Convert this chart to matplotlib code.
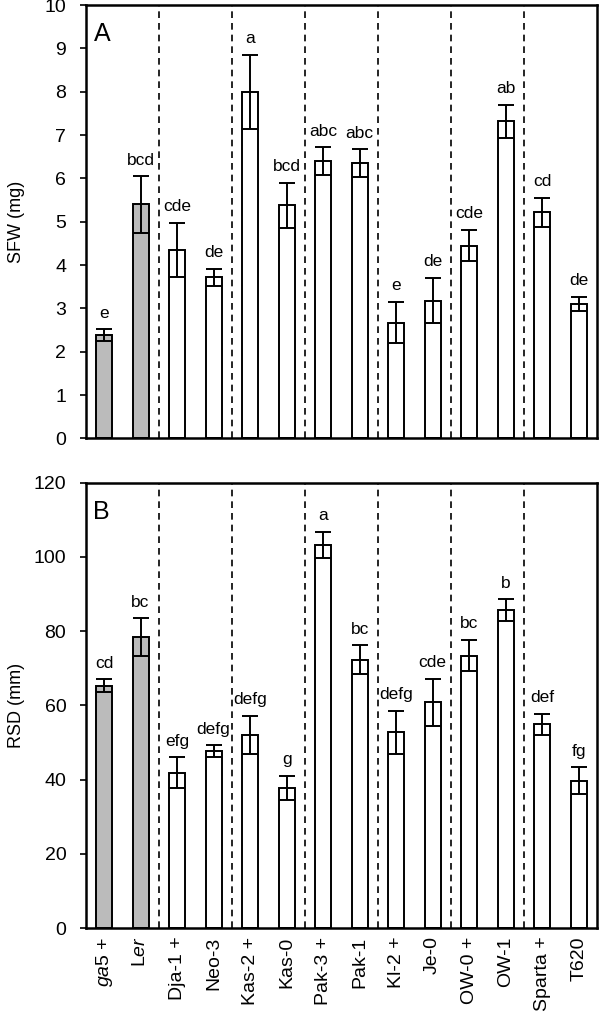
import numpy as np
import matplotlib.pyplot as plt

plt.rcParams['font.family'] = ['Liberation Sans', 'DejaVu Sans']
plt.rcParams['mathtext.fontset'] = 'custom'
plt.rcParams['mathtext.it'] = 'Liberation Sans:italic'
plt.rcParams['mathtext.rm'] = 'Liberation Sans'

# lines (accessions)
labels = [r'$\it{ga5}$ +', r'L$\it{er}$', 'Dja-1 +', 'Neo-3', 'Kas-2 +', 'Kas-0',
          'Pak-3 +', 'Pak-1', 'Kl-2 +', 'Je-0', 'OW-0 +', 'OW-1', 'Sparta +', 'T620']

# panel A: shoot fresh weight (mg)
sfw = [2.38, 5.40, 4.35, 3.72, 8.00, 5.38, 6.40, 6.35, 2.67, 3.18, 4.45, 7.32, 5.22, 3.10]
sfw_err = [0.14, 0.65, 0.63, 0.20, 0.85, 0.52, 0.32, 0.32, 0.48, 0.52, 0.36, 0.38, 0.33, 0.17]
sfw_grp = ['e', 'bcd', 'cde', 'de', 'a', 'bcd', 'abc', 'abc', 'e', 'de', 'cde', 'ab', 'cd', 'de']

# panel B: rosette diameter (mm)
rsd = [65.3, 78.4, 41.9, 47.6, 52.0, 37.7, 103.2, 72.3, 52.8, 60.8, 73.4, 85.6, 54.9, 39.7]
rsd_err = [1.7, 5.0, 4.1, 1.6, 5.2, 3.3, 3.5, 3.9, 5.8, 6.3, 4.2, 3.0, 2.9, 3.6]
rsd_grp = ['cd', 'bc', 'efg', 'defg', 'defg', 'g', 'a', 'bc', 'defg', 'cde', 'bc', 'b', 'def', 'fg']

colors = ['#bbbbbb', '#bbbbbb'] + ['white'] * 12
x = np.arange(len(labels))

fig = plt.figure(figsize=(6, 10.29), dpi=100)
axA = fig.add_axes([0.143, 0.574, 0.852, 0.421])
axB = fig.add_axes([0.143, 0.098, 0.852, 0.433])


def panel(ax, vals, errs, grps, ymax, step, ylabel, letter, off):
    ax.bar(x, vals, width=0.44, color=colors, edgecolor='black', linewidth=1.4, zorder=2)
    ax.errorbar(x, vals, yerr=errs, fmt='none', ecolor='black', elinewidth=1.4,
                capsize=5.5, capthick=1.4, zorder=3)
    for xi, v, e, g in zip(x, vals, errs, grps):
        ax.text(xi, v + e + off, g, ha='center', va='bottom', fontsize=12.5)
    for b in np.arange(1.5, 12, 2):
        ax.axvline(b, color='black', linestyle=(0, (4, 3)), linewidth=1.2, zorder=1)
    ax.set_xlim(-0.5, len(labels) - 0.5)
    ax.set_ylim(0, ymax)
    ax.set_yticks(np.arange(0, ymax + step / 2, step))
    ax.tick_params(axis='y', direction='out', length=4, width=1.2, labelsize=14, pad=10)
    ax.tick_params(axis='x', length=0)
    ax.set_ylabel(ylabel, fontsize=13)
    ax.yaxis.set_label_coords(-0.118, 0.5)
    for s in ax.spines.values():
        s.set_linewidth(1.8)
    ax.text(0.015, 0.96, letter, transform=ax.transAxes, fontsize=18, va='top', ha='left')


panel(axA, sfw, sfw_err, sfw_grp, 10, 1, 'SFW (mg)', 'A', 0.2)
panel(axB, rsd, rsd_err, rsd_grp, 120, 20, 'RSD (mm)', 'B', 2.3)

axA.set_xticks(x)
axA.set_xticklabels([])
axB.set_xticks(x)
axB.set_xticklabels(labels, rotation=90, fontsize=14)
axB.tick_params(axis='x', pad=6)

fig.savefig('out.png', dpi=100)
